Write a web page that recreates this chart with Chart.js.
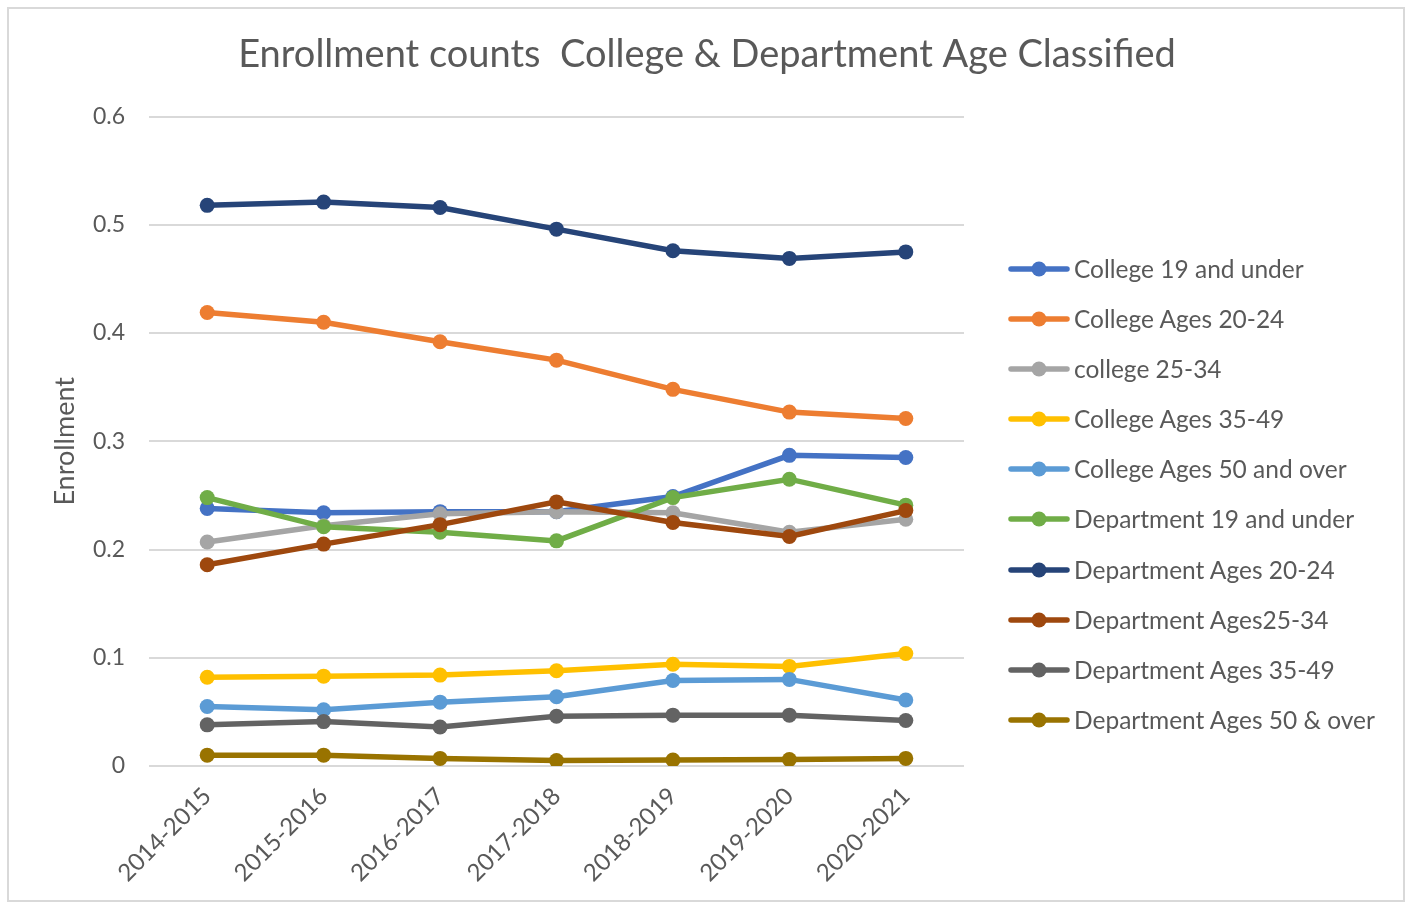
<!DOCTYPE html>
<html>
<head>
<meta charset="utf-8">
<script src="https://cdn.jsdelivr.net/npm/chart.js@4"></script>
<style>
  body { margin: 0; background: #fff; }
  #frame { position: absolute; left: 7px; top: 7px; width: 1398px; height: 895px; border: 2px solid #d9d9d9; box-sizing: border-box; }
  #wrap { position: absolute; left: 8px; top: 8px; width: 1398px; height: 895px; }
  #legend { position: absolute; left: 1008px; top: 254px; font-family: Lato, sans-serif; font-size: 24.5px; color: #595959; }
  .item { height: 50.1px; display: flex; align-items: flex-start; white-space: nowrap; }
  .item canvas { margin-right: 4px; margin-top: 7px; }
</style>
</head>
<body>
<div id="frame"></div>
<div id="wrap"><canvas id="chart-1" width="1398" height="895"></canvas></div>
<div id="legend"></div>
<script>
// x categories
const years = ["2014-2015", "2015-2016", "2016-2017", "2017-2018", "2018-2019", "2019-2020", "2020-2021"];
const yTicks = [0, 0.1, 0.2, 0.3, 0.4, 0.5, 0.6];

// series names and values
const names = ["College 19 and under", "College Ages 20-24", "college 25-34", "College Ages 35-49", "College Ages 50 and over",
  "Department 19 and under", "Department Ages 20-24", "Department Ages25-34", "Department Ages 35-49", "Department Ages 50 & over"];
const college19 = [0.238, 0.234, 0.235, 0.235, 0.249, 0.287, 0.285];
const college2024 = [0.419, 0.410, 0.392, 0.375, 0.348, 0.327, 0.321];
const college2534 = [0.207, 0.222, 0.233, 0.235, 0.234, 0.216, 0.228];
const college3549 = [0.082, 0.083, 0.084, 0.088, 0.094, 0.092, 0.104];
const college50 = [0.055, 0.052, 0.059, 0.064, 0.079, 0.080, 0.061];
const dept19 = [0.248, 0.221, 0.216, 0.208, 0.248, 0.265, 0.241];
const dept2024 = [0.518, 0.521, 0.516, 0.496, 0.476, 0.469, 0.475];
const dept2534 = [0.186, 0.205, 0.223, 0.244, 0.225, 0.212, 0.236];
const dept3549 = [0.038, 0.041, 0.036, 0.046, 0.047, 0.047, 0.042];
const dept50 = [0.010, 0.010, 0.007, 0.005, 0.0055, 0.006, 0.007];

const series = [college19, college2024, college2534, college3549, college50, dept19, dept2024, dept2534, dept3549, dept50];
const colors = ["#4472C4", "#ED7D31", "#A5A5A5", "#FFC000", "#5B9BD5", "#70AD47", "#264478", "#9E480E", "#636363", "#997300"];

const textColor = '#595959';
const fontFam = 'Lato, sans-serif';

const datasets = series.map((vals, i) => ({
  label: names[i],
  data: vals,
  borderColor: colors[i],
  backgroundColor: colors[i],
  borderWidth: 5.5,
  pointRadius: 7.5,
  pointBorderWidth: 0,
  pointHoverRadius: 7.5,
  tension: 0,
  order: series.length - i   // later series on top, like the original
}));

const ctx = document.getElementById('chart-1').getContext('2d');
const chart_1 = new Chart(ctx, {
  type: 'line',
  data: { labels: years, datasets: datasets },
  options: {
    responsive: false,
    animation: false,
    layout: { padding: 0 },
    plugins: {
      legend: { display: false },
      tooltip: { enabled: false },
      title: {
        display: true,
        text: 'Enrollment counts  College & Department Age Classified',
        color: textColor,
        font: { family: fontFam, size: 38, weight: 'normal' },
        padding: { top: 24, bottom: 39 }
      }
    },
    scales: {
      x: {
        offset: true,
        grid: { display: false },
        border: { display: false },
        afterFit: s => { s.height = 137; },
        ticks: {
          color: textColor,
          font: { family: fontFam, size: 24 },
          minRotation: 45,
          maxRotation: 45,
          padding: 8
        }
      },
      y: {
        min: 0,
        max: 0.6,
        afterFit: s => { s.width = 141; },
        afterBuildTicks: s => { s.ticks = yTicks.map(v => ({ value: v })); },
        border: { display: false },
        grid: { color: '#d9d9d9', lineWidth: 2, drawTicks: false },
        ticks: {
          color: textColor,
          font: { family: fontFam, size: 23 },
          padding: 24,
          callback: v => String(v)
        },
        title: {
          display: true,
          text: 'Enrollment',
          color: textColor,
          font: { family: fontFam, size: 27 },
          padding: { top: 41, bottom: 0 }
        }
      },
      // empty right-hand space for the legend
      side: {
        position: 'right',
        display: true,
        afterFit: s => { s.width = 442; },
        grid: { display: false },
        border: { display: false },
        ticks: { display: false }
      }
    }
  }
});

// legend: line with a round marker, like the original
const legend = document.getElementById('legend');
names.forEach((n, i) => {
  const row = document.createElement('div');
  row.className = 'item';
  const c = document.createElement('canvas');
  c.width = 62; c.height = 16;
  const g = c.getContext('2d');
  g.strokeStyle = colors[i];
  g.lineWidth = 5.5;
  g.lineCap = 'round';
  g.beginPath(); g.moveTo(3, 8); g.lineTo(59, 8); g.stroke();
  g.fillStyle = colors[i];
  g.beginPath(); g.arc(31, 8, 7.5, 0, Math.PI * 2); g.fill();
  row.appendChild(c);
  const t = document.createElement('span');
  t.textContent = n;
  row.appendChild(t);
  legend.appendChild(row);
});
</script>
</body>
</html>
